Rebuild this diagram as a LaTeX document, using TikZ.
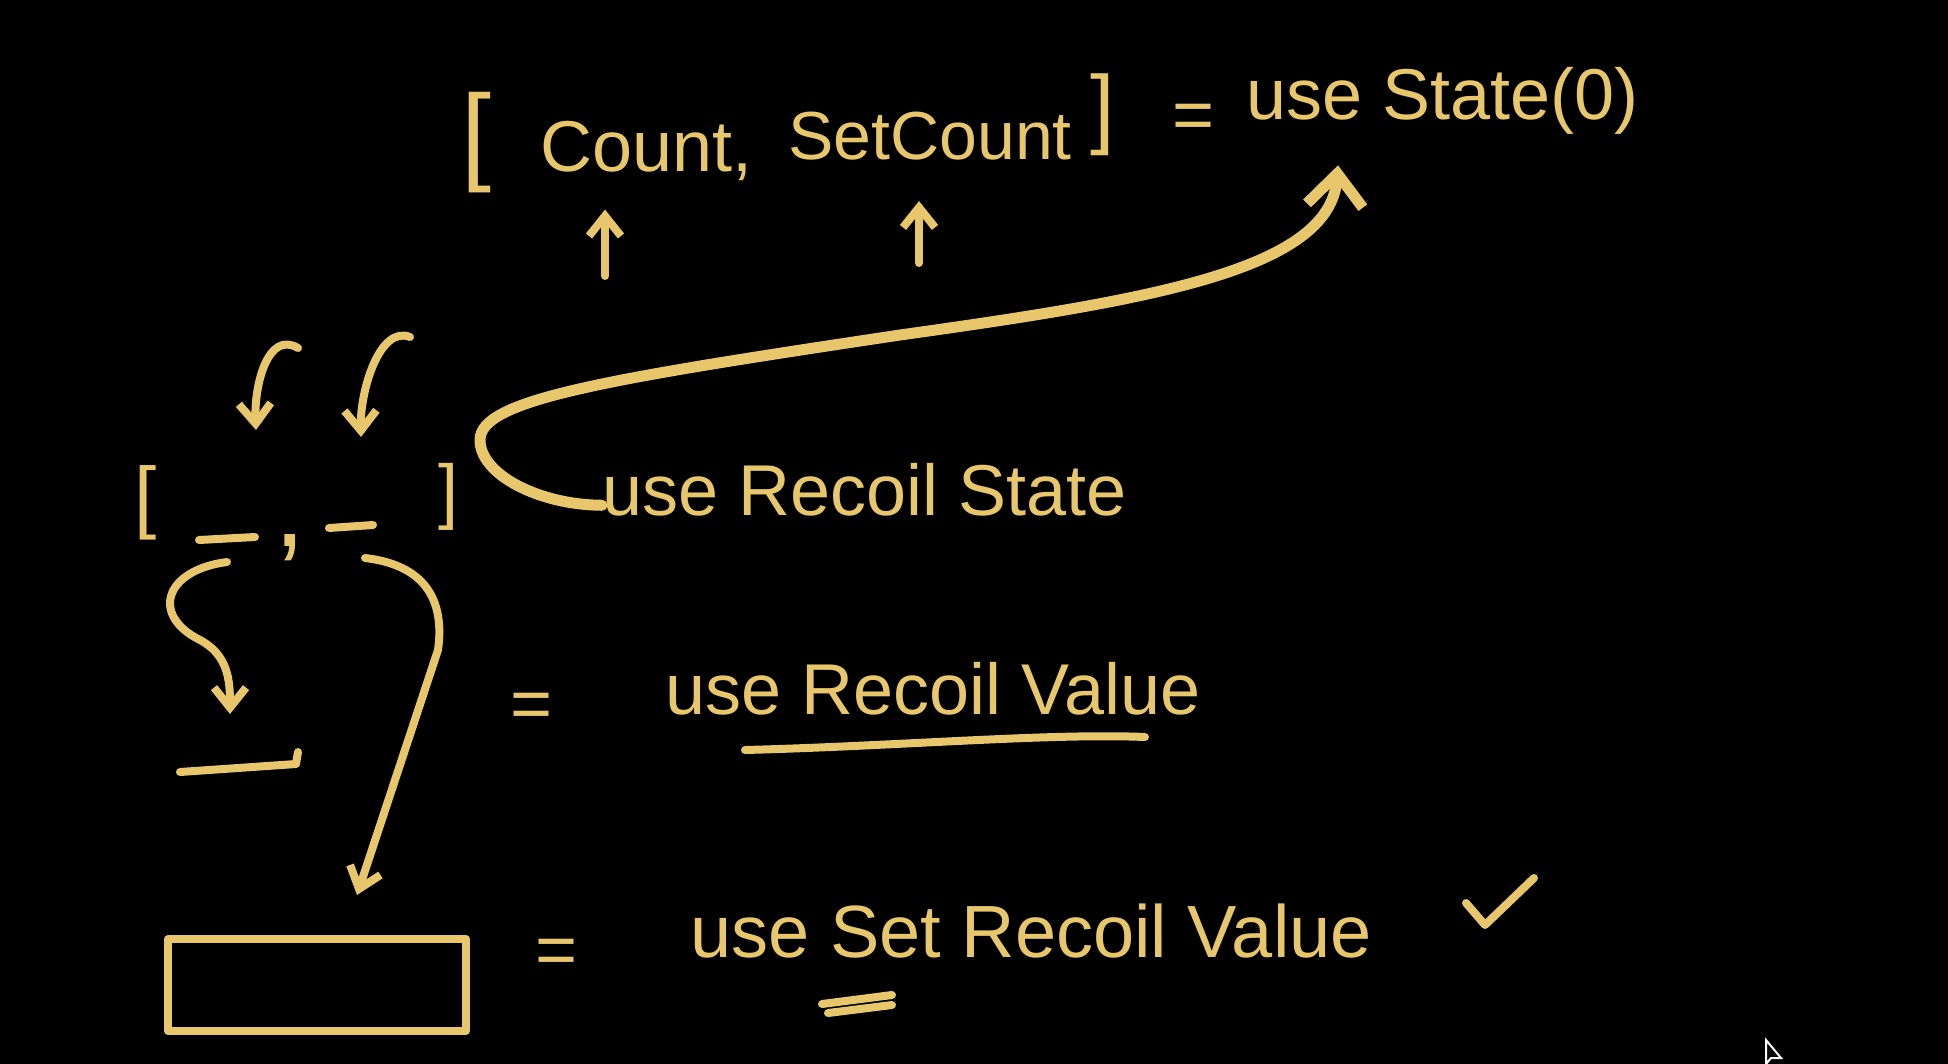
\documentclass[tikz,border=0pt]{standalone}
\usepackage{fontspec}
\setmainfont{Liberation Sans}
\usetikzlibrary{arrows.meta,positioning}

\definecolor{chalk}{RGB}{232,198,108}

\tikzset{
  chalk/.style={draw=chalk, line width=4pt, line cap=round, line join=round},
  barb/.style={chalk, -{Straight Barb[length=10pt,width=16pt]}},
  hand/.style={text=chalk, inner sep=0pt, font=\fontsize{36}{40}\selectfont},
}

\newcommand{\blankslot}[4]{
\path (#2,#3) coordinate (#1);
\draw [chalk] ([xshift=-#4]#1) -- ([xshift=#4,yshift=1.5pt]#1);
}

\begin{document}
\begin{tikzpicture}[x=0.5pt,y=-0.5pt]
\fill [black] (0,0) rectangle (1948,1064);
\useasboundingbox (0,0) rectangle (1948,1064);

% hook with its two names
\node [hand, font=\fontsize{54}{60}\selectfont] (lbrack) at (476,143) {[};
\node [hand, anchor=base west] (count) at (540,172) {Count,};
\node [hand, anchor=base west, font=\fontsize{34}{40}\selectfont] (setcount) at (788,160) {SetCount};
\node [hand, anchor=base west, font=\fontsize{44}{50}\selectfont] (rbrack) at (1090,138) {]};
\node [hand, anchor=base west] (eqtop) at (1172,140) {=};
\node [hand, anchor=base west] (usestate) at (1246,120) {use State(0)};

\path (605,276) coordinate (up1);
\path (919,263) coordinate (up2);
\draw [barb] (up1) -- ([yshift=-14pt]up1 |- count.south);
\draw [barb] (up2) -- ([yshift=-20pt]up2 |- setcount.south);

% recoil side
\node [hand, anchor=base west] (recstate) at (602,515) {use Recoil State};
\node [hand, anchor=base west] (recvalue) at (665,714) {use Recoil Value};
\node [hand, anchor=base west, font=\fontsize{37}{42}\selectfont] (setrecvalue) at (690,957) {use Set Recoil Value};
\node [hand] (eq1) at (532,711) {=};
\node [hand] (eq2) at (557,957) {=};

\draw [chalk, line width=5.5pt, -{Straight Barb[length=16pt,width=28pt]}]
  ([yshift=-8pt]recstate.west) .. controls (540,505) and (480,475) .. (480,440)
  .. controls (480,400) and (600,380) .. (900,335)
  .. controls (1150,300) and (1330,270) .. ([xshift=46pt,yshift=-15pt]usestate.south west);

% the pair [ _ , _ ]
\node [hand, font=\fontsize{40}{44}\selectfont] (lpair) at (146,503) {[};
\node [hand, font=\fontsize{36}{40}\selectfont] (rpair) at (448,497) {]};
\node [hand, font=\fontsize{56}{60}\selectfont] (comma) at (290,548) {,};
\blankslot{slotA}{227}{540}{14pt}
\blankslot{slotB}{351}{528}{11pt}

\path (298,348) coordinate (curlA);
\path (256,430) coordinate (pickA);
\path (410,337) coordinate (curlB);
\path (361,437) coordinate (pickB);
\draw [barb] (curlA) .. controls (268,330) and (254,385) .. (pickA);
\draw [barb] (curlB) .. controls (380,325) and (360,390) .. (pickB);

\path (180,772) coordinate (valL);
\path (296,764) coordinate (valR);
\draw [chalk] (valL) -- (valR) -- ++(2,-12);
\node [chalk, minimum width=149pt, minimum height=46pt] (box) at (317,985) {};

\draw [barb] ([yshift=-11pt]slotA) .. controls (165,570) and (150,615) .. (200,640)
  .. controls (228,655) and (230,680) .. ([xshift=-33pt,yshift=25pt]valR);
\draw [barb] ([xshift=7pt,yshift=-15pt]slotB) .. controls (425,565) and (445,600) .. (438,650)
  -- ([xshift=20pt,yshift=20pt]box.north);

% underlines and tick
\draw [chalk] (745,750) .. controls (900,746) and (1050,733) .. (1145,737);
\draw [chalk] (822,1004) -- (892,995);
\draw [chalk] (828,1013) -- (892,1005);
\draw [chalk] (1466,903) -- (1485,925) -- (1534,878);

% pointer
\draw [white, line width=1pt, fill=black] (1766,1040) -- (1766,1064) -- (1771,1058) -- (1781,1058) -- cycle;

\end{tikzpicture}
\end{document}
